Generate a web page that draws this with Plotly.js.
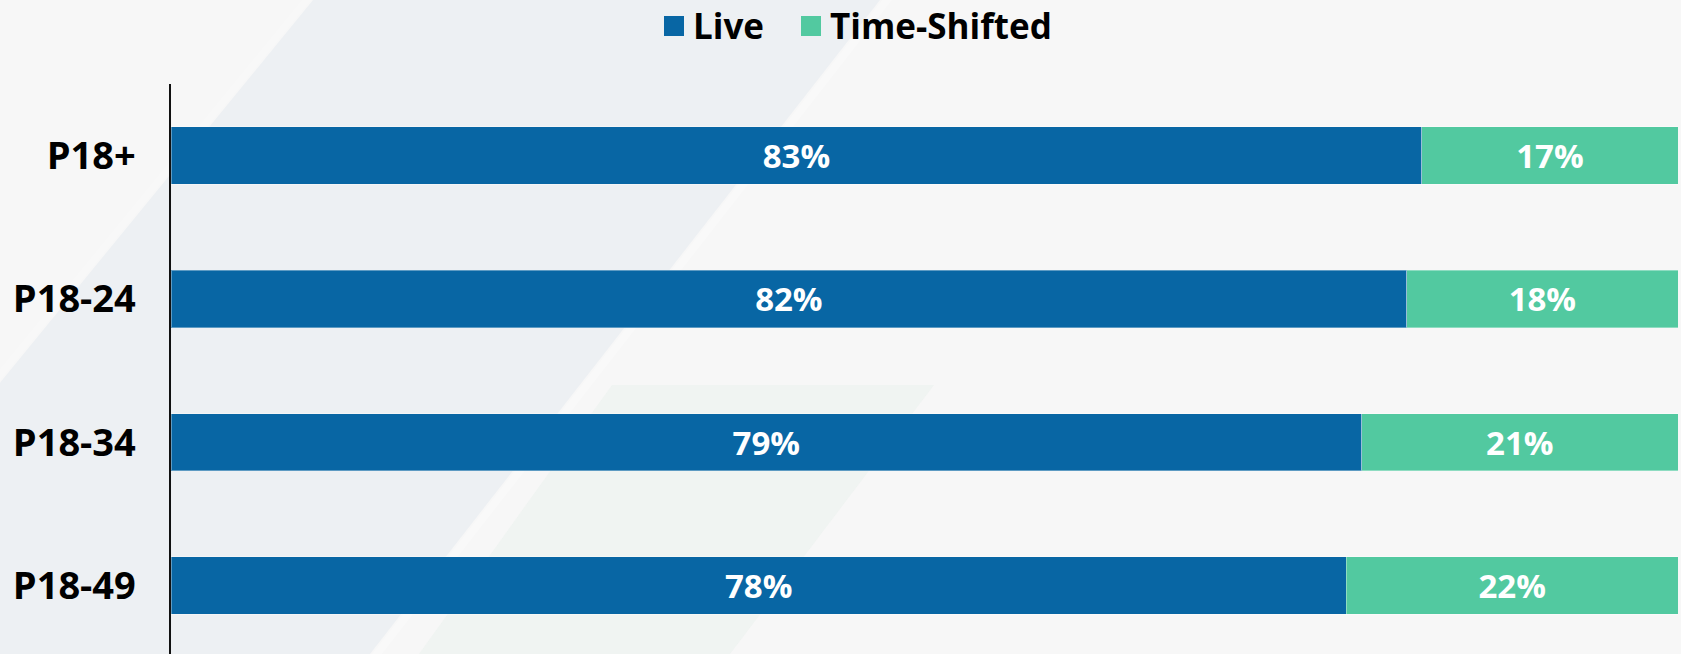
<!DOCTYPE html>
<html>
<head>
<meta charset="utf-8">
<script src="https://cdn.plot.ly/plotly-3.0.1.min.js"></script>
<style>
  html, body { margin: 0; padding: 0; background: #f7f7f7; }
  #chart { width: 1681px; height: 654px; }
</style>
</head>
<body>
<div id="chart"></div>
<script>
// ---- data ----
const categories = ['P18+', 'P18-24', 'P18-34', 'P18-49'];
const liveValues = [83, 82, 79, 78];
const timeShiftedValues = [17, 18, 21, 22];
const seriesNames = ['Live', 'Time-Shifted'];
const seriesColors = ['#0866a4', '#52c9a0'];

// ---- geometry helpers (styling only) ----
const W = 1681, H = 654;
const M = { l: 171, r: 3, t: 84, b: 0 };
const PW = W - M.l - M.r, PH = H - M.t - M.b;
const px = x => (x - M.l) / PW;
const py = y => 1 - (y - M.t) / PH;
const poly = pts => pts.map((p, i) => (i ? 'L' : 'M') + px(p[0]).toFixed(5) + ',' + py(p[1]).toFixed(5)).join(' ') + ' Z';

const FONT = '"Open Sans", "Noto Sans", "DejaVu Sans", sans-serif';

const values = [liveValues, timeShiftedValues];
const traces = seriesNames.map((name, i) => ({
  type: 'bar',
  orientation: 'h',
  name: name,
  y: categories,
  x: values[i],
  text: values[i].map(v => v + '%'),
  textposition: 'inside',
  insidetextanchor: 'middle',
  constraintext: 'none',
  textfont: { family: FONT, size: 33, color: '#ffffff', weight: 700 },
  marker: { color: seriesColors[i], line: { color: 'rgba(255,255,255,0.35)', width: 1 } },
  hoverinfo: 'skip',
  showlegend: false
}));

// background decoration
const shapes = [
  { type: 'path', xref: 'paper', yref: 'paper', layer: 'below',
    path: poly([[313, 0], [880, 0], [370, 654], [-222, 654]]),
    fillcolor: '#edf0f3', line: { width: 0 } },
  { type: 'path', xref: 'paper', yref: 'paper', layer: 'below',
    path: poly([[612, 385], [934, 385], [730, 654], [419, 654]]),
    fillcolor: 'rgba(225,238,232,0.35)', line: { width: 0 } },
  { type: 'path', xref: 'paper', yref: 'paper', layer: 'below',
    path: poly([[882, 0], [892, 0], [382, 654], [372, 654]]),
    fillcolor: 'rgba(255,255,255,0.25)', line: { width: 0 } },
  { type: 'path', xref: 'paper', yref: 'paper', layer: 'below',
    path: poly([[302, 0], [311, 0], [-224, 654], [-233, 654]]),
    fillcolor: 'rgba(255,255,255,0.2)', line: { width: 0 } }
];

// manual legend (large square swatches)
const legendItems = [
  { sx: 664, tx: 692 },
  { sx: 801, tx: 829 }
];
const annotations = [];
legendItems.forEach((it, i) => {
  shapes.push({
    type: 'rect', xref: 'paper', yref: 'paper', layer: 'above',
    x0: px(it.sx), x1: px(it.sx + 20), y0: py(36), y1: py(16),
    fillcolor: seriesColors[i], line: { width: 0 }
  });
  annotations.push({
    xref: 'paper', yref: 'paper', x: px(it.tx), y: py(26),
    xanchor: 'left', yanchor: 'middle', showarrow: false,
    text: seriesNames[i],
    font: { family: FONT, size: 35, color: '#000000', weight: 700 },
    borderpad: 0
  });
});

const layout = {
  width: W, height: H,
  margin: M,
  paper_bgcolor: '#f7f7f7',
  plot_bgcolor: 'rgba(0,0,0,0)',
  barmode: 'stack',
  bargap: 0.6,
  showlegend: false,
  xaxis: { range: [0, 100], visible: false, showgrid: false, zeroline: false, fixedrange: true },
  yaxis: {
    type: 'category',
    range: [3.478, -0.5],
    showline: true, linecolor: '#111111', linewidth: 1.6,
    showgrid: false, zeroline: false, ticks: '',
    ticklabelstandoff: 26,
    tickfont: { family: FONT, size: 38, color: '#000000', weight: 700 },
    fixedrange: true
  },
  shapes: shapes,
  annotations: annotations
};

Plotly.newPlot('chart', traces, layout, { displayModeBar: false, staticPlot: true });
</script>
</body>
</html>
